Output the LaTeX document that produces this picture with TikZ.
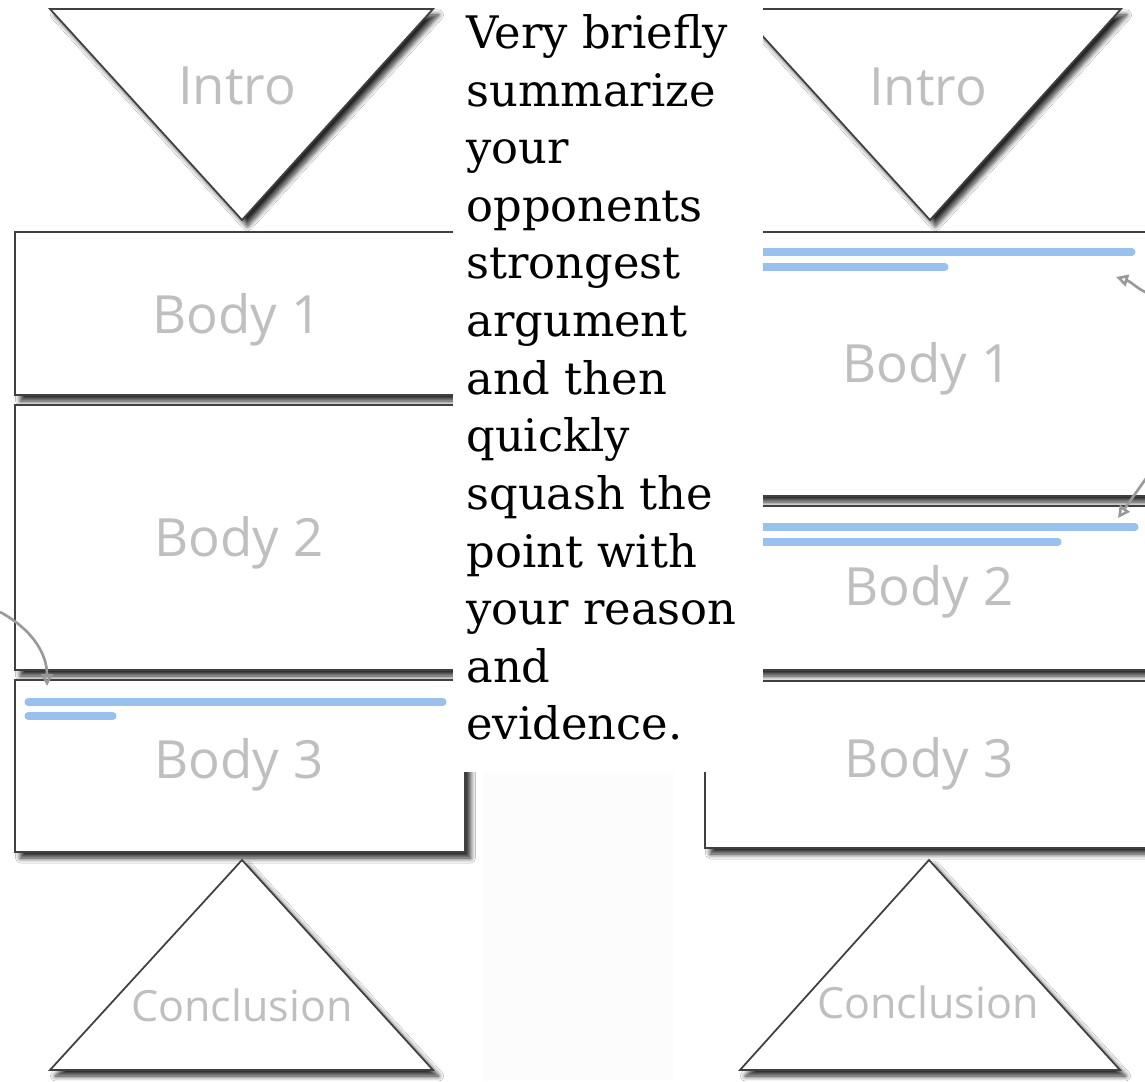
\documentclass[tikz,border=0pt]{standalone}
\usepackage{fontspec}
\setmainfont{DejaVu Serif}
\newfontfamily\labelfont{Open Sans}
\usetikzlibrary{arrows.meta,shadows.blur}
\definecolor{noteblue}{RGB}{152,193,238}

\begin{document}
\begin{tikzpicture}[
    x=0.02cm, y=-0.02cm,
    part/.style={
      draw=black!75,
      line width=1pt,
      fill=white,
      blur shadow={shadow xshift=0.11cm, shadow yshift=-0.12cm,
        shadow blur radius=0.1cm, shadow blur steps=8, shadow opacity=85}
    },
    lbl/.style={font=\labelfont\fontsize{30}{36}\selectfont, text=gray!50, anchor=base},
    smalllbl/.style={lbl, font=\labelfont\fontsize{24.5}{30}\selectfont},
    note/.style={draw=noteblue, line width=4pt, line cap=round},
    pointer/.style={draw=gray!80, line width=1.5pt, -{Triangle[open,length=2.4mm,width=2.4mm]}},
    summary/.style={align=left, inner sep=0pt, anchor=north west,
      font=\fontsize{25.5}{32.8}\selectfont}
  ]
    \useasboundingbox (0,0) rectangle (1145,1081);
    \clip (0,0) rectangle (1145,1081);
    \fill[white] (0,0) rectangle (1145,1081);
    \fill[black!1] (483,772) rectangle (673,1081);

    % left outline
    \draw[part] (50,9) -- (433,9) -- (242,220) -- cycle;
    \draw[part] (15,232) rectangle (465,395);
    \draw[part] (15,405) rectangle (465,670);
    \draw[part] (15,680) rectangle (465,852);
    \draw[part] (242,860) -- (433,1070) -- (50,1070) -- cycle;
    \draw[note] (28,702) -- (443,702);
    \draw[note] (28,716) -- (113,716);
    \node[lbl] (lintro) at (237,105) {Intro};
    \node[lbl] (lbodyone) at (237,333) {Body 1};
    \node[lbl] (lbodytwo) at (239,556) {Body 2};
    \node[lbl] (lbodythree) at (239,778) {Body 3};
    \node[smalllbl] (lconcl) at (242,1021) {Conclusion};

    % right outline
    \draw[part] (738,9) -- (1121,9) -- (930,220) -- cycle;
    \draw[part] (705,232) rectangle (1150,496);
    \draw[part] (705,506) rectangle (1150,670);
    \draw[part] (705,681) rectangle (1150,848);
    \draw[part] (929,860) -- (1120,1070) -- (740,1070) -- cycle;
    \draw[note] (740,252) -- (1132,252);
    \draw[note] (740,267) -- (945,267);
    \draw[note] (740,527) -- (1135,527);
    \draw[note] (740,542) -- (1058,542);
    \node[lbl] (rintro) at (928,106) {Intro};
    \node[lbl] (rbodyone) at (927,382) {Body 1};
    \node[lbl] (rbodytwo) at (929,605) {Body 2};
    \node[lbl] (rbodythree) at (929,777) {Body 3};
    \node[smalllbl] (rconcl) at (928,1018) {Conclusion};

    % moved paragraphs
    \coordinate (lmovefrom) at (0,612);
    \coordinate (lmoveto) at (47,686);
    \draw[pointer] (lmovefrom) .. controls (30,628) and (47,652) .. (lmoveto);
    \coordinate (rmovefrom) at (1150,294);
    \coordinate (rmoveto) at (1116,277);
    \draw[pointer] (rmovefrom) .. controls (1138,290) and (1132,282) .. (rmoveto);
    \coordinate (rmovetwofrom) at (1152,470);
    \coordinate (rmovetwoto) at (1118,518);
    \draw[pointer] (rmovetwofrom) -- (rmovetwoto);

    % overlay note
    \fill[white] (453,0) rectangle (763,772);
    \node[summary] (counter) at (466,14) {Very briefly\\summarize\\your\\opponents\\strongest\\argument\\and then\\quickly\\squash the\\point with\\your reason\\and\\evidence.};
  \end{tikzpicture}
\end{document}
